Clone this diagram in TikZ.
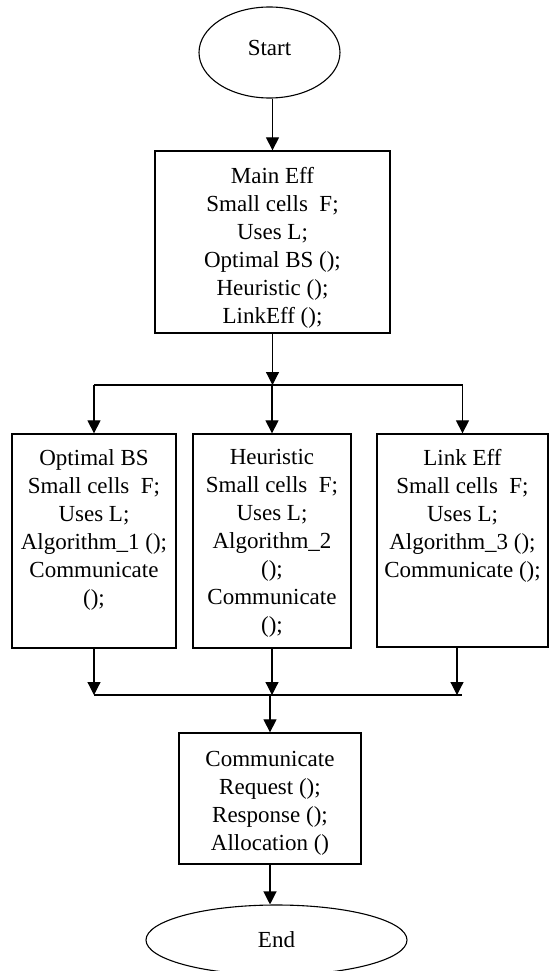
\documentclass[tikz,border=0pt]{standalone}
\usepackage{fontspec}
\setmainfont{Liberation Serif}
\usetikzlibrary{arrows.meta,shapes.geometric,calc}
\newcommand\bxt[4]{\parbox[c][#1][t]{#2}{\centering\vspace*{#3}#4}}
\begin{document}
\begin{tikzpicture}[x=1pt,y=-1pt,
  txt/.style={font=\fontsize{23pt}{28pt}\selectfont, text=black},
  bx/.style={txt, draw, rectangle, inner sep=0pt, line width=1.3pt},
  ell/.style={txt, draw, ellipse, inner sep=0pt, line width=1.1pt},
  ln/.style={line width=1.2pt},
  arr/.style={ln, -{Triangle[width=13pt,length=13pt]}}]
\useasboundingbox (0,0) rectangle (549,971);
\fill[white] (0,0) rectangle (549,971);

\node[ell, minimum width=141pt, minimum height=91pt] (start) at (269.5,52.5) {\raisebox{9pt}{Start}};

\node[bx] (main) at (272.5,242) {\bxt{182pt}{235pt}{16.5pt}{Main Eff\\Small cells\ \ F;\\Uses L;\\Optimal BS ();\\Heuristic ();\\LinkEff ();}};

\node[bx] (b1) at (94,541) {\bxt{214pt}{164pt}{15.5pt}{Optimal BS\\Small cells\ \ F;\\Uses L;\\Algorithm\_1 ();\\Communicate\\();}};
\node[bx] (b2) at (272,541) {\bxt{214pt}{158pt}{15.5pt}{Heuristic\\Small cells\ \ F;\\Uses L;\\Algorithm\_2\\();\\Communicate\\();}};
\node[bx] (b3) at (462.5,540.5) {\bxt{213pt}{171pt}{15.5pt}{Link Eff\\Small cells\ \ F;\\Uses L;\\Algorithm\_3 ();\\Communicate ();}};

\node[bx] (comm) at (270,798.5) {\bxt{131pt}{182pt}{18pt}{Communicate\\Request ();\\Response ();\\Allocation ()}};

\node[ell, minimum width=261pt, minimum height=70pt] (end) at (276.5,940) {End};

\draw[arr] (start.south -| main.north) -- (main.north);
\coordinate (split) at (272.5,385);
\draw[arr] (main.south) -- (split);
\draw[ln] (b1.north |- split) -- (b3.north |- split);
\draw[arr] (b1.north |- split) -- (b1.north);
\draw[arr] (b2.north |- split) -- (b2.north);
\draw[arr] (b3.north |- split) -- (b3.north);

\coordinate (join) at (270,695);
\draw[arr] (b1.south) -- (b1.south |- join);
\draw[arr] (b2.south) -- (b2.south |- join);
\draw[arr] ([xshift=-5.5pt]b3.south) -- ([xshift=-5.5pt]b3.south |- join);
\draw[ln] (b1.south |- join) -- ([xshift=-1pt]b3.south |- join);
\draw[arr] (comm.north |- join) -- (comm.north);
\draw[arr] (comm.south) -- (comm.south |- end.north);
\end{tikzpicture}
\end{document}
